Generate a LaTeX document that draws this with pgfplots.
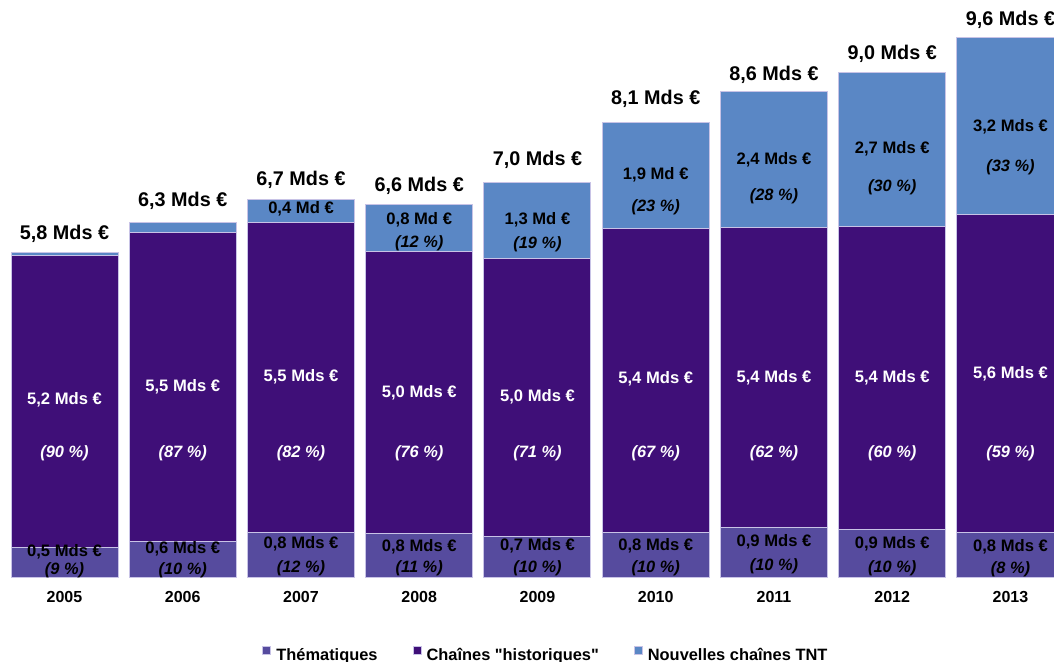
\documentclass[border=0pt]{standalone}
\usepackage{pgfplots}
\pgfplotsset{compat=1.18}
\usepackage{fontspec}
\setmainfont{Liberation Sans}[Ligatures=TeXOff]
\definecolor{them}{RGB}{86,75,158}
\definecolor{hist}{RGB}{63,15,120}
\definecolor{tnt}{RGB}{90,135,197}
\definecolor{edge}{RGB}{200,195,230}
\newcommand{\tot}{\fontsize{9.9}{11}\selectfont\bfseries}
\newcommand{\inl}{\fontsize{8.3}{9.5}\selectfont\bfseries}
\newcommand{\yr}{\fontsize{8}{9.5}\selectfont\bfseries}
\newcommand{\leg}{\fontsize{8.2}{9.5}\selectfont\bfseries}
\newcommand{\pct}{\fontsize{8.2}{9.5}\selectfont\bfseries\itshape}

\newcommand{\barlabels}{%
% totals
\node[font=\tot] at (axis cs:0,6.109) {5,8 Mds €};
\node[font=\tot] at (axis cs:1,6.696) {6,3 Mds €};
\node[font=\tot] at (axis cs:2,7.070) {6,7 Mds €};
\node[font=\tot] at (axis cs:3,6.964) {6,6 Mds €};
\node[font=\tot] at (axis cs:4,7.427) {7,0 Mds €};
\node[font=\tot] at (axis cs:5,8.513) {8,1 Mds €};
\node[font=\tot] at (axis cs:6,8.940) {8,6 Mds €};
\node[font=\tot] at (axis cs:7,9.314) {9,0 Mds €};
\node[font=\tot] at (axis cs:8,9.920) {9,6 Mds €};
% historiques
\node[font=\inl, text=white] at (axis cs:0,3.152) {5,2 Mds €};
\node[font=\inl, text=white] at (axis cs:1,3.384) {5,5 Mds €};
\node[font=\inl, text=white] at (axis cs:2,3.562) {5,5 Mds €};
\node[font=\inl, text=white] at (axis cs:3,3.277) {5,0 Mds €};
\node[font=\inl, text=white] at (axis cs:4,3.206) {5,0 Mds €};
\node[font=\inl, text=white] at (axis cs:5,3.526) {5,4 Mds €};
\node[font=\inl, text=white] at (axis cs:6,3.544) {5,4 Mds €};
\node[font=\inl, text=white] at (axis cs:7,3.544) {5,4 Mds €};
\node[font=\inl, text=white] at (axis cs:8,3.615) {5,6 Mds €};
\node[font=\pct, text=white] at (axis cs:0,2.208) {(90 \%)};
\node[font=\pct, text=white] at (axis cs:1,2.208) {(87 \%)};
\node[font=\pct, text=white] at (axis cs:2,2.208) {(82 \%)};
\node[font=\pct, text=white] at (axis cs:3,2.208) {(76 \%)};
\node[font=\pct, text=white] at (axis cs:4,2.208) {(71 \%)};
\node[font=\pct, text=white] at (axis cs:5,2.208) {(67 \%)};
\node[font=\pct, text=white] at (axis cs:6,2.208) {(62 \%)};
\node[font=\pct, text=white] at (axis cs:7,2.208) {(60 \%)};
\node[font=\pct, text=white] at (axis cs:8,2.208) {(59 \%)};
% thematiques
\node[font=\inl] at (axis cs:0,0.445) {0,5 Mds €};
\node[font=\inl] at (axis cs:1,0.499) {0,6 Mds €};
\node[font=\inl] at (axis cs:2,0.588) {0,8 Mds €};
\node[font=\inl] at (axis cs:3,0.534) {0,8 Mds €};
\node[font=\inl] at (axis cs:4,0.552) {0,7 Mds €};
\node[font=\inl] at (axis cs:5,0.552) {0,8 Mds €};
\node[font=\inl] at (axis cs:6,0.623) {0,9 Mds €};
\node[font=\inl] at (axis cs:7,0.588) {0,9 Mds €};
\node[font=\inl] at (axis cs:8,0.534) {0,8 Mds €};
\node[font=\pct] at (axis cs:0,0.125) {(9 \%)};
\node[font=\pct] at (axis cs:1,0.125) {(10 \%)};
\node[font=\pct] at (axis cs:2,0.160) {(12 \%)};
\node[font=\pct] at (axis cs:3,0.160) {(11 \%)};
\node[font=\pct] at (axis cs:4,0.160) {(10 \%)};
\node[font=\pct] at (axis cs:5,0.160) {(10 \%)};
\node[font=\pct] at (axis cs:6,0.196) {(10 \%)};
\node[font=\pct] at (axis cs:7,0.160) {(10 \%)};
\node[font=\pct] at (axis cs:8,0.142) {(8 \%)};
% TNT
\node[font=\inl] at (axis cs:2,6.554) {0,4 Md €};
\node[font=\inl] at (axis cs:3,6.358) {0,8 Md €};
\node[font=\inl] at (axis cs:4,6.358) {1,3 Md €};
\node[font=\inl] at (axis cs:5,7.159) {1,9 Md €};
\node[font=\inl] at (axis cs:6,7.426) {2,4 Mds €};
\node[font=\inl] at (axis cs:7,7.622) {2,7 Mds €};
\node[font=\inl] at (axis cs:8,8.014) {3,2 Mds €};
\node[font=\pct] at (axis cs:3,5.948) {(12 \%)};
\node[font=\pct] at (axis cs:4,5.931) {(19 \%)};
\node[font=\pct] at (axis cs:5,6.590) {(23 \%)};
\node[font=\pct] at (axis cs:6,6.785) {(28 \%)};
\node[font=\pct] at (axis cs:7,6.946) {(30 \%)};
\node[font=\pct] at (axis cs:8,7.302) {(33 \%)};
\coordinate (bl) at (axis cs:-0.5455,-1.496);
\coordinate (tr) at (axis cs:8.368,10.276);
}

\begin{document}
\begin{tikzpicture}
\begin{axis}[
    ybar stacked,
    bar width=53.5pt,
    scale only axis,
    width=527pt,
    height=288.5pt,
    xmin=-0.5455, xmax=8.368,
    ymin=0, ymax=10.276,
    axis line style={draw=none},
    tick style={draw=none},
    ytick=\empty,
    xtick={0,...,8},
    xticklabels={2005,2006,2007,2008,2009,2010,2011,2012,2013},
    xticklabel style={font=\yr, anchor=center, yshift=-10pt},
    legend columns=3,
    legend style={draw=none, fill=none, inner sep=0pt,
        at={(rel axis cs:0.2486,-0.1352)}, anchor=west,
        font=\leg,
        nodes={inner sep=0pt},
        /tikz/every odd column/.append style={column sep=2.5pt},
        /tikz/every even column/.append style={column sep=17.5pt}},
    legend image code/.code={\fill[#1] (0pt,0.5pt) rectangle (4pt,4.5pt);},
    after end axis/.code={\barlabels},
]
\addplot[fill=them, draw=edge, line width=0.5pt] coordinates {(0,0.53) (1,0.64) (2,0.80) (3,0.77) (4,0.73) (5,0.80) (6,0.89) (7,0.85) (8,0.80)};
\addlegendentry{Thématiques}
\addplot[fill=hist, draw=edge, line width=0.5pt] coordinates {(0,5.20) (1,5.50) (2,5.52) (3,5.02) (4,4.95) (5,5.41) (6,5.33) (7,5.40) (8,5.65)};
\addlegendentry{Chaînes "historiques"}
\addplot[fill=tnt, draw=edge, line width=0.5pt] coordinates {(0,0.05) (1,0.18) (2,0.41) (3,0.84) (4,1.35) (5,1.89) (6,2.42) (7,2.74) (8,3.15)};
\addlegendentry{Nouvelles chaînes TNT}
\end{axis}
\pgfresetboundingbox
\path[use as bounding box] (bl) rectangle (tr);
\end{tikzpicture}
\end{document}
